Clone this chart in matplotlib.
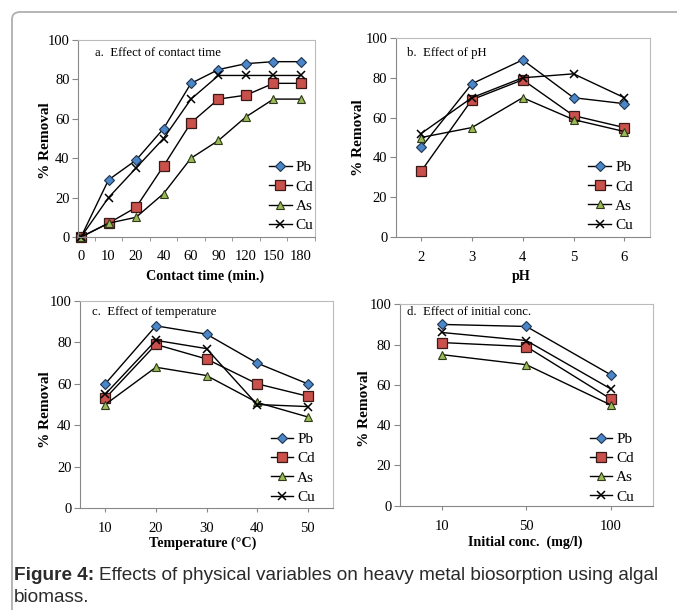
import matplotlib
matplotlib.use("Agg")
import matplotlib.pyplot as plt
from matplotlib.patches import FancyBboxPatch

# ---- data ----
series = ["Pb", "Cd", "As", "Cu"]

time_labels = ["0", "10", "20", "40", "60", "90", "120", "150", "180"]
time_pb = [0, 29, 39, 55, 78, 85, 88, 89, 89]
time_cd = [0, 7, 15, 36, 58, 70, 72, 78, 78]
time_as = [0, 7, 10, 22, 40, 49, 61, 70, 70]
time_cu = [0, 20, 35, 50, 70, 82, 82, 82, 82]

ph_labels = ["2", "3", "4", "5", "6"]
ph_pb = [45, 77, 89, 70, 67]
ph_cd = [33, 69, 79, 61, 55]
ph_as = [50, 55, 70, 59, 53]
ph_cu = [52, 70, 80, 82, 70]

temp_labels = ["10", "20", "30", "40", "50"]
temp_pb = [60, 88, 84, 70, 60]
temp_cd = [53, 79, 72, 60, 54]
temp_as = [50, 68, 64, 51, 44]
temp_cu = [55, 81, 77, 50, 49]

conc_labels = ["10", "50", "100"]
conc_pb = [90, 89, 65]
conc_cd = [81, 79, 53]
conc_as = [75, 70, 50]
conc_cu = [86, 82, 58]

# marker styles per metal
styles = {
    "Pb": dict(marker="D", markersize=5.0, markerfacecolor="#4a86c8", markeredgecolor="#1f3550", markeredgewidth=0.8),
    "Cd": dict(marker="s", markersize=6.5, markerfacecolor="#c9504b", markeredgecolor="#3a1a18", markeredgewidth=0.9),
    "As": dict(marker="^", markersize=6.0, markerfacecolor="#9bbb59", markeredgecolor="#2f3a1a", markeredgewidth=0.8),
    "Cu": dict(marker="x", markersize=5.5, markerfacecolor="black", markeredgecolor="black", markeredgewidth=1.1),
}

plt.rcParams["font.family"] = ["Liberation Serif", "DejaVu Serif"]
sans = ["Liberation Sans", "DejaVu Sans"]

fig = plt.figure(figsize=(6.77, 6.10), dpi=100)

# outer rounded frame (only left and top edges visible)
frame = FancyBboxPatch((12 / 677, -0.1), 1.0, 1 - 12 / 610 + 0.1,
                       boxstyle="round,pad=0,rounding_size=0.012",
                       transform=fig.transFigure, fill=False,
                       edgecolor="#b0b0b0", linewidth=1.3, clip_on=False)
fig.patches.append(frame)


def panel(rect, labels, data, title, title_pos, xlabel, xlim,
          xlab_pos, ylab_pos, leg_pos, ticks_between=False):
    ax = fig.add_axes(rect)
    x = list(range(len(labels)))
    for name, vals in zip(series, data):
        ax.plot(x, vals, color="black", linewidth=1.0, label=name, clip_on=False, **styles[name])
    ax.set_ylim(0, 100)
    ax.set_yticks([0, 20, 40, 60, 80, 100])
    ax.set_xlim(*xlim)
    ax.set_xticks(x)
    ax.set_xticklabels(labels)
    if ticks_between:
        ax.set_xticks([i + 0.5 for i in x], minor=True)
        ax.tick_params(axis="x", which="major", length=0, pad=9)
        ax.tick_params(axis="x", which="minor", length=3, color="#888888")
    else:
        ax.tick_params(axis="x", which="major", length=3, color="#888888", pad=7)
    ax.tick_params(axis="y", length=4, color="#888888", pad=2)
    ax.tick_params(labelsize=10.5)
    for s in ["left", "bottom"]:
        ax.spines[s].set_color("#888888")
    for s in ["top", "right"]:
        ax.spines[s].set_color("#bbbbbb")
    ax.set_ylabel("% Removal", fontsize=11, fontweight="bold", va="center")
    ax.yaxis.set_label_coords(*ylab_pos)
    ax.set_xlabel(xlabel, fontsize=10.2, fontweight="bold", va="center")
    ax.xaxis.set_label_coords(*xlab_pos)
    ax.text(title_pos[0], title_pos[1], title, transform=ax.transAxes,
            fontsize=9.2, va="center", ha="left")
    ax.legend(loc="lower right", frameon=False, fontsize=11, handlelength=1.5,
              handletextpad=0.25, labelspacing=0.36, borderaxespad=0, borderpad=0,
              bbox_to_anchor=leg_pos)
    return ax


panel([78 / 677, 1 - 237 / 610, 237 / 677, 197 / 610], time_labels,
      [time_pb, time_cd, time_as, time_cu], "a.  Effect of contact time",
      (0.072, 0.934), "Contact time (min.)", (-0.11, 8.51),
      (0.536, -0.198), (-0.139, 0.49), (0.992, 0.025), ticks_between=True)

panel([395.7 / 677, 1 - 237 / 610, 254 / 677, 199 / 610], ph_labels,
      [ph_pb, ph_cd, ph_as, ph_cu], "b.  Effect of pH",
      (0.045, 0.925), "pH", (-0.5, 4.5),
      (0.493, -0.196), (-0.148, 0.497), (0.934, 0.025))

panel([80 / 677, 1 - 508 / 610, 253 / 677, 207 / 610], temp_labels,
      [temp_pb, temp_cd, temp_as, temp_cu], "c.  Effect of temperature",
      (0.047, 0.945), "Temperature (\u00b0C)", (-0.5, 4.5),
      (0.484, -0.169), (-0.138, 0.473), (0.929, 0.02))

panel([399.7 / 677, 1 - 505.7 / 610, 253.3 / 677, 201.4 / 610], conc_labels,
      [conc_pb, conc_cd, conc_as, conc_cu], "d.  Effect of initial conc.",
      (0.03, 0.96), "Initial conc.  (mg/l)", (-0.5, 2.5),
      (0.497, -0.182), (-0.138, 0.48), (0.925, 0.01))

# caption
cap_size = 13.7
t1 = fig.text(14 / 677, 1 - 575 / 610, "Figure 4:", fontsize=cap_size, fontweight="bold",
              family=sans, color="#2a2a2a", va="center")
fig.canvas.draw()
bb = t1.get_window_extent()
fig.text(bb.x1 / 677 + 5 / 677, 1 - 575 / 610,
         "Effects of physical variables on heavy metal biosorption using algal",
         fontsize=cap_size, family=sans, color="#2a2a2a", va="center")
fig.text(14 / 677, 1 - 598 / 610, "biomass.", fontsize=cap_size,
         family=sans, color="#2a2a2a", va="center")

fig.savefig("out.png", dpi=100)
